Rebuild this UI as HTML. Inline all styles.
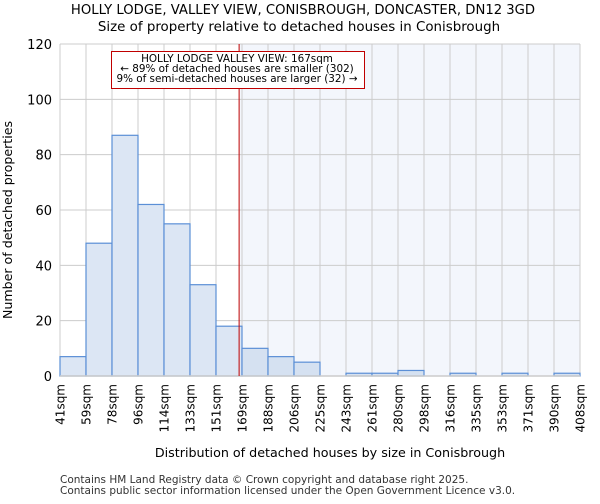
<!DOCTYPE html>
<html><head><meta charset="utf-8"><style>
body{margin:0;background:#fff;font-family:"DejaVu Sans","Liberation Sans",sans-serif;}
</style></head><body>
<svg width="600" height="500" xmlns="http://www.w3.org/2000/svg" font-family="DejaVu Sans, Liberation Sans, sans-serif">
<text x="303" y="14" text-anchor="middle" font-size="13.2">HOLLY LODGE, VALLEY VIEW, CONISBROUGH, DONCASTER, DN12 3GD</text>
<text x="299" y="31" text-anchor="middle" font-size="13.4">Size of property relative to detached houses in Conisbrough</text>
<g id="plot"></g>
<text transform="translate(12,220) rotate(-90)" text-anchor="middle" font-size="12.6">Number of detached properties</text>
<text x="330" y="457" text-anchor="middle" font-size="12.7">Distribution of detached houses by size in Conisbrough</text>
<text x="60" y="483" font-size="10.5" fill="#333">Contains HM Land Registry data © Crown copyright and database right 2025.</text>
<text x="60" y="494" font-size="10.5" fill="#333">Contains public sector information licensed under the Open Government Licence v3.0.</text>
</svg>
<script>
const tickLabels=["41sqm","59sqm","78sqm","96sqm","114sqm","133sqm","151sqm","169sqm","188sqm","206sqm","225sqm","243sqm","261sqm","280sqm","298sqm","316sqm","335sqm","353sqm","371sqm","390sqm","408sqm"];
const counts=[7,48,87,62,55,33,18,10,7,5,0,1,1,2,0,1,0,1,0,1];
const yTicks=[0,20,40,60,80,100,120];
const markerBinPos=7-(169-167)/18;
const NS="http://www.w3.org/2000/svg";
const L=60,R=580,T=44,B=376,yMax=120;
const n=counts.length,bw=(R-L)/n;
const xs=i=>L+i*bw, ys=v=>B-(v/yMax)*(B-T);
const g=document.getElementById('plot');
function mk(t,a){const e=document.createElementNS(NS,t);for(const k in a)e.setAttribute(k,a[k]);g.appendChild(e);return e;}
const mx=xs(markerBinPos);
let e=mk('rect',{x:mx,y:T,width:R-mx,height:B-T,fill:'#f3f6fc'});


for(let i=0;i<=n;i++){e=mk('line',{x1:xs(i),x2:xs(i),y1:T,y2:B,stroke:'#ccc','stroke-width':1});

}
yTicks.forEach(v=>{e=mk('line',{x1:L,x2:R,y1:ys(v),y2:ys(v),stroke:'#ccc','stroke-width':1});


e=mk('text',{x:L-8,y:ys(v)+5,'text-anchor':'end','font-size':13});e.textContent=v;

});
counts.forEach((c,i)=>{if(c<=0)return;
e=mk('rect',{x:xs(i),y:ys(c),width:bw,height:B-ys(c),fill:i>=7?'#d5e1f1':'#dce6f4',stroke:'#5b8fd6','stroke-width':1.2});

});
e=mk('line',{x1:L,x2:R,y1:B,y2:B,stroke:'#ccc','stroke-width':1.5});


tickLabels.forEach((t,i)=>{e=mk('text',{transform:`translate(${xs(i)+4.5},384) rotate(-90)`,'text-anchor':'end','font-size':12});e.textContent=t;

});
e=mk('line',{x1:mx,x2:mx,y1:T,y2:B,stroke:'#c00000','stroke-width':1});


e=mk('rect',{x:111.5,y:51.5,width:253,height:37,fill:'#fff',stroke:'#c00000','stroke-width':1});


["HOLLY LODGE VALLEY VIEW: 167sqm","← 89% of detached houses are smaller (302)","9% of semi-detached houses are larger (32) →"].forEach((s,k)=>{
e=mk('text',{x:237,y:62+k*10,'text-anchor':'middle','font-size':10.4});e.textContent=s;

});
</script>
</body></html>
